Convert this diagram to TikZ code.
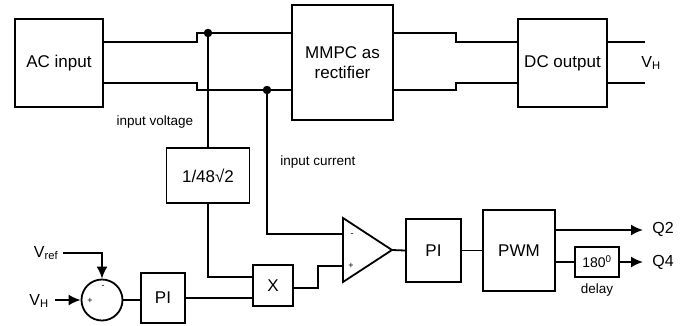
\documentclass[tikz,border=0pt]{standalone}
\usepackage{fontspec}
\setmainfont{Liberation Sans}
\usetikzlibrary{arrows.meta,calc}
\begin{document}
\begin{tikzpicture}[x=1pt,y=-1pt,
  blk/.style={draw,line width=1.8pt,inner sep=0pt,font=\fontsize{17}{20}\selectfont,align=center},
  lbl/.style={inner sep=0pt,font=\fontsize{13.5}{15}\selectfont},
  sig/.style={inner sep=0pt,font=\fontsize{16}{18}\selectfont},
  sgn/.style={inner sep=0pt,font=\fontsize{9}{10}\selectfont},
  wire/.style={line width=1.8pt},
  arr/.style={wire,-{Latex[length=12pt,width=11pt]}},
  jdot/.style={circle,fill,inner sep=0pt,minimum size=8.5pt}]
\useasboundingbox (0,0) rectangle (683,325);
\fill[white] (0,0) rectangle (683,325);
% blocks
\node[blk,minimum width=88,minimum height=88] (ac) at (59,63) {AC input};
\node[blk,minimum width=101,minimum height=115] (mm) at (342.5,62.5) {MMPC as\\rectifier};
\node[blk,minimum width=89,minimum height=88] (dc) at (562.5,63) {DC output};
\node[blk,minimum width=83,minimum height=55] (f) at (208,175.5) {1/48√2};
\node[blk,minimum width=40,minimum height=41] (mx) at (273,285.5) {X};
\node[blk,minimum width=44,minimum height=50] (pi1) at (163,298) {PI};
\node[blk,minimum width=55,minimum height=63] (pi2) at (433.5,250.5) {PI};
\node[blk,minimum width=72,minimum height=81] (pwm) at (519,250.5) {PWM};
\node[blk,minimum width=44,minimum height=30,font=\fontsize{14}{16}\selectfont] (dl) at (597,262) {180\textsuperscript{0}};
\node[draw,circle,line width=1.8pt,minimum size=41,inner sep=0pt] (sum) at (102,300) {};
% comparator
\coordinate (cm) at (343,234);
\coordinate (cp) at (343,266);
\coordinate (co) at (392,250);
\draw[wire,line join=miter] (343,218) -- (co) -- (343,282) -- cycle;
\node[sgn] at (352,235) {-};
\node[sgn] at (351,266) {+};
% junctions
\node[jdot] (j1) at (208,33) {};
\node[jdot] (j2) at (267,90) {};
% power wires
\draw[wire] (ac.east |- 0,42) -- (197,42) -- (197,33) -- (mm.west |- 0,33);
\draw[wire] (ac.east |- 0,83) -- (197,83) -- (197,90) -- (mm.west |- 0,90);
\draw[wire] (mm.east |- 0,33) -- (456,33) -- (456,42) -- (dc.west |- 0,42);
\draw[wire] (mm.east |- 0,90) -- (456,90) -- (456,83) -- (dc.west |- 0,83);
\coordinate (o1) at (645,42);
\coordinate (o2) at (645,83);
\draw[wire] (dc.east |- o1) -- (o1);
\draw[wire] (dc.east |- o2) -- (o2);
% control wires
\draw[wire] (j1.center) -- (f.north);
\draw[wire] (f.south) |- (mx.west |- 0,277);
\draw[wire] (j2.center) |- (cm);
\draw[wire] (mx.east |- 0,288) -| (318,266) -- (cp);
\draw[wire] (co) -- (pi2.west);
\draw[wire] (pi2.east) -- (pwm.west);
\coordinate (q2) at (643,230);
\coordinate (q4) at (643,262);
\draw[arr] (pwm.east |- q2) -- (q2);
\draw[wire] (pwm.east |- dl.west) -- (dl.west);
\draw[arr] (dl.east) -- (q4);
\coordinate (vr) at (63,253);
\coordinate (vh) at (55,300);
\draw[arr] (vr) -| (sum.north);
\draw[arr] (vh) -- (sum.west);
\draw[wire] (sum.east) -- (pi1.west |- sum.east);
\draw[wire] (pi1.east) -- (mx.west |- pi1.east);
% signs on summer
\node[sgn] at (90,301) {+};
\node[sgn] at (103,287) {-};
% labels
\node[lbl] at (155,122) {input voltage};
\node[lbl] at (318,162) {input current};
\node[lbl] at (597,290) {delay};
\node[sig] at (663,229) {Q2};
\node[sig] at (663,262) {Q4};
\node[sig] at (651,63) {V\textsubscript{H}};
\node[sig] at (46,253) {V\textsubscript{ref}};
\node[sig] at (39,301) {V\textsubscript{H}};
\end{tikzpicture}
\end{document}
